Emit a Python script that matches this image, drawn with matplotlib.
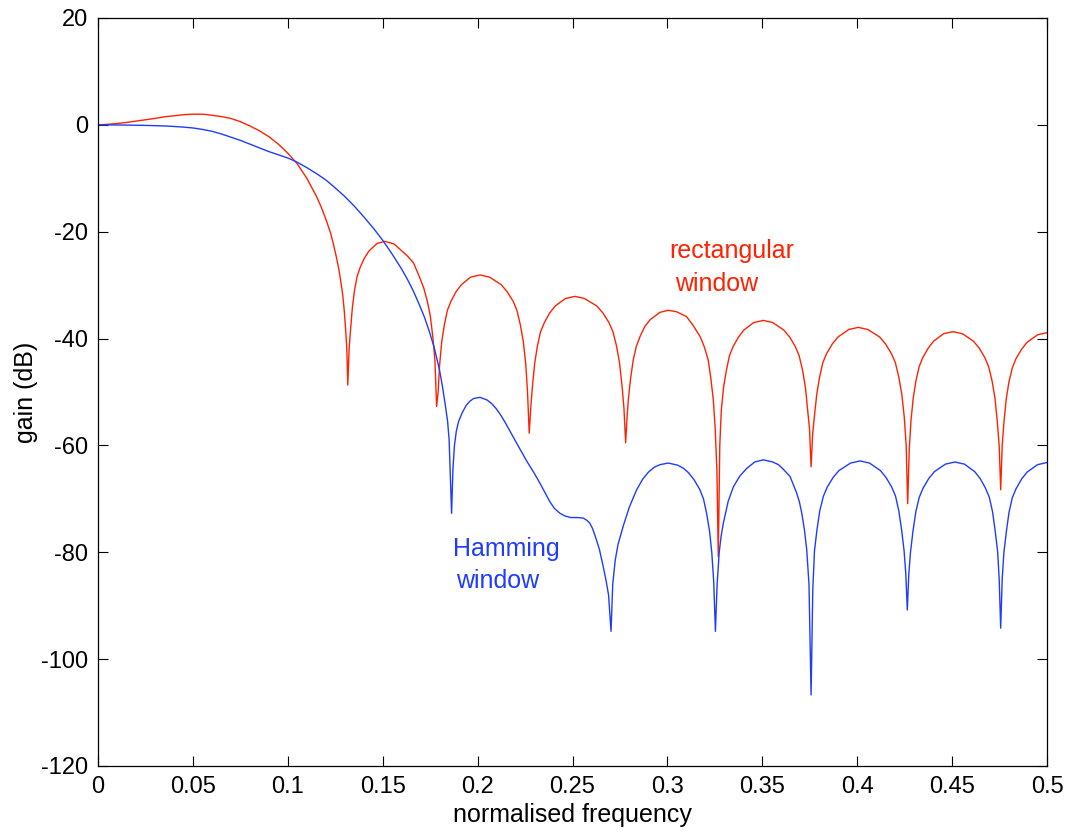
import numpy as np
import matplotlib
matplotlib.use("Agg")
import matplotlib.pyplot as plt

# rectangular window response, (normalised frequency, gain dB)
rect_pts = [
    (0.000, 0.0), (0.005, 0.1), (0.010, 0.25), (0.015, 0.45), (0.020, 0.7), (0.025, 0.95),
    (0.030, 1.2), (0.035, 1.5), (0.040, 1.7), (0.045, 1.9), (0.050, 2.0), (0.055, 2.0),
    (0.060, 1.8), (0.065, 1.55), (0.070, 1.2), (0.075, 0.6), (0.080, -0.2), (0.085, -1.1),
    (0.090, -2.2), (0.095, -3.6), (0.100, -5.3), (0.105, -7.3), (0.110, -10.0), (0.115, -13.3),
    (0.1175, -15.3), (0.120, -17.6), (0.1225, -20.2), (0.124, -22.3), (0.1255, -24.6),
    (0.127, -27.2), (0.128, -29.5), (0.129, -32.0), (0.1298, -35.0), (0.1305, -38.5),
    (0.1311, -42.0), (0.1316, -48.7),
    (0.1323, -42.0), (0.1330, -38.6), (0.1340, -34.3), (0.1351, -31.1), (0.1365, -28.4),
    (0.1381, -26.7), (0.1404, -24.9), (0.1428, -23.6), (0.1470, -22.2), (0.1512, -21.8),
    (0.1560, -22.3), (0.1629, -24.5), (0.1662, -25.8), (0.1694, -28.5), (0.1716, -30.5),
    (0.1735, -33.0), (0.1751, -35.8), (0.1765, -40.0), (0.1775, -44.0), (0.1784, -52.7),
    (0.1792, -50.0), (0.1800, -44.9), (0.1811, -40.6), (0.1825, -37.4), (0.1841, -34.7),
    (0.1860, -33.0), (0.1887, -31.2), (0.1915, -29.9), (0.1963, -28.5), (0.2013, -28.1),
    (0.2063, -28.5), (0.2124, -29.9), (0.2155, -31.2), (0.2187, -33.0), (0.2207, -34.7),
    (0.2225, -37.4), (0.2241, -40.6), (0.2254, -44.9), (0.2263, -50.0), (0.2272, -57.7),
    (0.2280, -53.0), (0.2289, -48.9), (0.2301, -44.6), (0.2315, -41.4), (0.2332, -38.7),
    (0.2352, -37.0), (0.2380, -35.2), (0.2409, -33.9), (0.2463, -32.5), (0.2513, -32.1),
    (0.2563, -32.5), (0.2628, -33.9), (0.2660, -35.2), (0.2692, -37.0), (0.2713, -38.7),
    (0.2732, -41.4), (0.2748, -44.6), (0.2761, -48.9), (0.2771, -53.0), (0.2780, -59.5),
    (0.2787, -55.0), (0.2794, -51.5), (0.2806, -47.5), (0.2820, -44.0), (0.2836, -41.5),
    (0.2856, -39.6), (0.2880, -37.8), (0.2908, -36.5), (0.2960, -35.1), (0.3005, -34.7),
    (0.3050, -35.0), (0.3101, -35.9), (0.3135, -37.5), (0.3172, -39.6), (0.3194, -41.5),
    (0.3215, -44.0), (0.3229, -47.5), (0.3242, -51.5), (0.3252, -57.0), (0.3261, -65.0),
    (0.3268, -80.8),
    (0.3276, -60.0), (0.3284, -53.4), (0.3296, -49.1), (0.3311, -45.9), (0.3327, -43.2),
    (0.3346, -41.5), (0.3375, -39.7), (0.3403, -38.4), (0.3455, -37.0), (0.3505, -36.6),
    (0.3555, -37.0), (0.3613, -38.4), (0.3644, -39.7), (0.3674, -41.5), (0.3694, -43.2),
    (0.3712, -45.9), (0.3727, -49.1), (0.3739, -53.4), (0.3749, -57.0), (0.3757, -64.0),
    (0.3765, -58.0), (0.3774, -54.7), (0.3787, -50.4), (0.3802, -47.2), (0.3819, -44.5),
    (0.3839, -42.8), (0.3869, -41.0), (0.3899, -39.7), (0.3956, -38.3), (0.4006, -37.9),
    (0.4056, -38.3), (0.4118, -39.7), (0.4149, -41.0), (0.4180, -42.8), (0.4201, -44.5),
    (0.4219, -47.2), (0.4235, -50.4), (0.4248, -54.7), (0.4258, -60.0), (0.4266, -70.9),
    (0.4274, -61.0), (0.4283, -55.5), (0.4295, -51.2), (0.4309, -48.0), (0.4326, -45.3),
    (0.4345, -43.6), (0.4374, -41.8), (0.4402, -40.5), (0.4455, -39.1), (0.4505, -38.7),
    (0.4555, -39.1), (0.4613, -40.5), (0.4643, -41.8), (0.4673, -43.6), (0.4693, -45.3),
    (0.4711, -48.0), (0.4726, -51.2), (0.4738, -55.5), (0.4748, -60.0), (0.4756, -68.3),
    (0.4764, -60.0), (0.4773, -55.7), (0.4785, -51.4), (0.4799, -48.2), (0.4817, -45.5),
    (0.4836, -43.8), (0.4866, -42.0), (0.4895, -40.7), (0.4950, -39.3), (0.5000, -38.9),
]

# Hamming window response
hamm_pts = [
    (0.000, 0.0), (0.005, 0.0), (0.010, -0.02), (0.015, -0.04), (0.020, -0.07), (0.025, -0.1),
    (0.030, -0.15), (0.035, -0.21), (0.040, -0.3), (0.045, -0.42), (0.050, -0.58),
    (0.055, -0.85), (0.060, -1.2), (0.065, -1.7), (0.070, -2.3), (0.075, -2.9), (0.080, -3.6),
    (0.085, -4.3), (0.090, -5.0), (0.095, -5.6), (0.100, -6.2), (0.105, -7.0), (0.110, -8.0),
    (0.115, -9.1), (0.120, -10.3), (0.125, -11.8), (0.130, -13.4), (0.135, -15.2),
    (0.140, -17.2), (0.145, -19.3), (0.150, -21.6), (0.155, -24.2), (0.160, -27.0),
    (0.163, -28.9), (0.166, -31.0), (0.169, -33.4), (0.172, -36.0), (0.1745, -38.6),
    (0.177, -41.5), (0.1785, -43.7), (0.180, -46.0), (0.1815, -49.0), (0.183, -52.5),
    (0.1842, -55.5), (0.1850, -59.0), (0.1863, -72.7),
    (0.1870, -64.5), (0.1878, -60.0), (0.1888, -57.3), (0.190, -55.5), (0.192, -53.8),
    (0.194, -52.5), (0.196, -51.7), (0.198, -51.2), (0.2013, -51.0), (0.205, -51.5),
    (0.2075, -52.2), (0.210, -53.2), (0.2125, -54.5), (0.215, -56.0), (0.2178, -57.8),
    (0.2206, -59.6), (0.226, -63.0), (0.2295, -65.0), (0.2329, -67.1), (0.238, -70.5),
    (0.2405, -71.8), (0.2434, -72.7), (0.246, -73.2), (0.249, -73.5), (0.2525, -73.5),
    (0.2557, -73.6), (0.2575, -74.0), (0.259, -74.5), (0.2605, -75.5), (0.2620, -77.0),
    (0.2642, -79.5), (0.2662, -82.7), (0.2678, -85.5), (0.2690, -88.0), (0.2703, -94.8),
    (0.2712, -86.0), (0.2725, -81.5), (0.2740, -78.5), (0.2768, -75.0), (0.2800, -71.5),
    (0.2838, -68.3), (0.2870, -66.3), (0.2900, -65.0), (0.2930, -64.1), (0.2961, -63.6),
    (0.3005, -63.3), (0.3055, -63.7), (0.3085, -64.3), (0.3111, -65.1), (0.3140, -66.4),
    (0.3170, -68.2), (0.3190, -70.0), (0.3206, -72.6), (0.3222, -76.0), (0.3234, -80.1),
    (0.3244, -85.5), (0.3253, -94.8),
    (0.3262, -86.0), (0.3273, -80.0), (0.3283, -77.0), (0.3295, -74.5), (0.3320, -70.5),
    (0.3347, -67.8), (0.3380, -65.8), (0.3418, -64.3), (0.3460, -63.1), (0.3505, -62.7),
    (0.3555, -63.1), (0.3585, -63.6), (0.3609, -64.4), (0.3646, -65.8), (0.3680, -68.8),
    (0.3695, -70.5), (0.3708, -72.7), (0.3722, -75.8), (0.3734, -79.5), (0.3746, -86.0),
    (0.3757, -106.7),
    (0.3766, -87.0), (0.3775, -79.7), (0.3788, -75.8), (0.3803, -72.2), (0.3822, -69.5),
    (0.3842, -67.8), (0.3873, -66.0), (0.3904, -64.7), (0.3965, -63.3), (0.4015, -62.9),
    (0.4065, -63.3), (0.4122, -64.7), (0.4152, -66.0), (0.4182, -67.8), (0.4202, -69.5),
    (0.4219, -72.2), (0.4234, -75.8), (0.4247, -79.7), (0.4256, -84.0), (0.4264, -90.8),
    (0.4272, -84.0), (0.4281, -79.9), (0.4294, -76.0), (0.4309, -72.4), (0.4327, -69.7),
    (0.4347, -68.0), (0.4377, -66.2), (0.4407, -64.9), (0.4465, -63.5), (0.4515, -63.1),
    (0.4565, -63.5), (0.4619, -64.9), (0.4648, -66.2), (0.4676, -68.0), (0.4696, -69.7),
    (0.4713, -72.4), (0.4727, -76.0), (0.4740, -79.9), (0.4748, -85.0), (0.4756, -94.2),
    (0.4764, -85.0), (0.4773, -80.0), (0.4786, -76.1), (0.4800, -72.5), (0.4817, -69.8),
    (0.4837, -68.1), (0.4866, -66.3), (0.4895, -65.0), (0.4950, -63.6), (0.5000, -63.2),
]

x_ticks = [0, 0.05, 0.1, 0.15, 0.2, 0.25, 0.3, 0.35, 0.4, 0.45, 0.5]
x_labels = ["0", "0.05", "0.1", "0.15", "0.2", "0.25", "0.3", "0.35", "0.4", "0.45", "0.5"]
y_ticks = [-120, -100, -80, -60, -40, -20, 0, 20]

red = "#ff2200"
blue = "#1e3cff"

plt.rcParams["font.family"] = ["Liberation Sans", "DejaVu Sans"]
plt.rcParams["axes.unicode_minus"] = False

rect_f, rect_db = np.array(rect_pts).T
hamm_f, hamm_db = np.array(hamm_pts).T

fig = plt.figure(figsize=(10.7, 8.32), dpi=100)
ax = fig.add_axes([98 / 1070, 66 / 832, 949 / 1070, 748 / 832])

ax.plot(rect_f, rect_db, color=red, linewidth=1.0)
ax.plot(hamm_f, hamm_db, color=blue, linewidth=1.0)

ax.set_xlim(0, 0.5)
ax.set_ylim(-120, 20)
ax.set_xticks(x_ticks)
ax.set_xticklabels(x_labels)
ax.set_yticks(y_ticks)
ax.tick_params(direction="in", length=7, width=0.8, top=True, right=True,
               labelsize=17, pad=7)
for s in ax.spines.values():
    s.set_linewidth(0.9)

ax.set_xlabel("normalised frequency", fontsize=18, labelpad=4)
ax.set_ylabel("gain (dB)", fontsize=18, labelpad=2)

ax.text(0.3008, -23.6, "rectangular", color=red, fontsize=18, va="center")
ax.text(0.304, -29.8, "window", color=red, fontsize=18, va="center")
ax.text(0.187, -79.4, "Hamming", color=blue, fontsize=18, va="center")
ax.text(0.1886, -85.3, "window", color=blue, fontsize=18, va="center")

fig.savefig("out.png", dpi=100)
